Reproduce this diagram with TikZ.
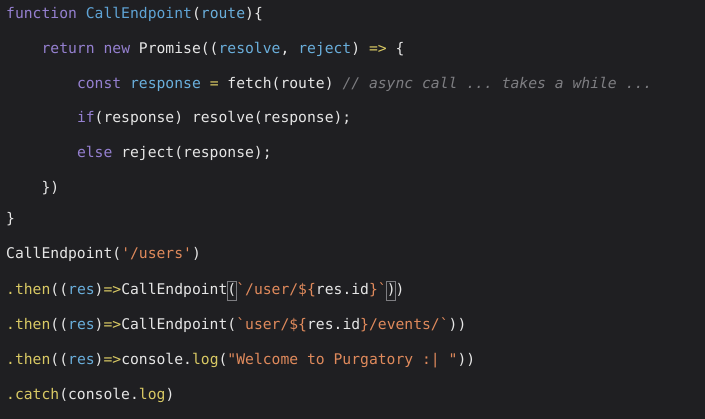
\documentclass[tikz,border=0pt]{standalone}
\usepackage{fontspec}
\setmonofont{DejaVu Sans Mono}
\definecolor{bg}{HTML}{1F1F22}
\definecolor{kw}{HTML}{9580D0}
\definecolor{fn}{HTML}{5FA4D6}
\definecolor{id}{HTML}{6AAFDC}
\definecolor{tx}{HTML}{E6E6E6}
\definecolor{yl}{HTML}{D9C964}
\definecolor{st}{HTML}{E08A5C}
\definecolor{cmt}{HTML}{7E7E82}
\newcommand{\K}[1]{\textcolor{kw}{#1}}
\newcommand{\F}[1]{\textcolor{fn}{#1}}
\newcommand{\I}[1]{\textcolor{id}{#1}}
\newcommand{\Y}[1]{\textcolor{yl}{#1}}
\newcommand{\Sg}[1]{\textcolor{st}{#1}}
\newcommand{\Cm}[1]{\textcolor{cmt}{\itshape #1}}
\newcommand{\bt}{\symbol{96}}
\newcommand{\sq}{\symbol{39}}
\begin{document}
\begin{tikzpicture}[x=1pt,y=-1pt,
  code/.style={anchor=base west,inner sep=0pt,text=tx,font=\ttfamily\fontsize{14.7}{16}\selectfont}]
\fill[bg] (0,0) rectangle (705,419);
\useasboundingbox (0,0) rectangle (705,419);
\def\cw{8.85}
\node[code] (l1) at (6,19) {\K{function} \F{CallEndpoint}(\I{route})\{};
\node[code] (l2) at (6+4*\cw,54) {\K{return} \K{new} Promise((\I{resolve}, \I{reject}) \Y{=>} \{};
\node[code] (l3) at (6+8*\cw,89) {\K{const} \I{response} \Y{=} fetch(route) \Cm{// async call ... takes a while ...}};
\node[code] (l4) at (6+8*\cw,123) {\K{if}(response) resolve(response);};
\node[code] (l5) at (6+8*\cw,158) {\K{else} reject(response);};
\node[code] (l6) at (6+4*\cw,193) {\})};
\node[code] (l7) at (6,224) {\}};
\node[code] (l8) at (6,259) {CallEndpoint(\Sg{\sq/users\sq})};
\node[code] (l9) at (6,295) {\Y{.then}((\I{res})\Y{=>}CallEndpoint(\Sg{\bt/user/\$\{}res.id\Sg{\}\bt}))};
\node[code] (l10) at (6,330) {\Y{.then}((\I{res})\Y{=>}CallEndpoint(\Sg{\bt user/\$\{}res.id\Sg{\}/events/\bt}))};
\node[code] (l11) at (6,365) {\Y{.then}((\I{res})\Y{=>}console.\Y{log}(\Sg{"Welcome to Purgatory :| "}))};
\node[code] (l12) at (6,400) {\Y{.catch}(console.\Y{log})};
\draw[cmt,line width=0.6pt] (6+25*\cw,281) rectangle (6+26*\cw,300);
\draw[cmt,line width=0.6pt] (6+43*\cw,281) rectangle (6+44*\cw,300);
\end{tikzpicture}
\end{document}
